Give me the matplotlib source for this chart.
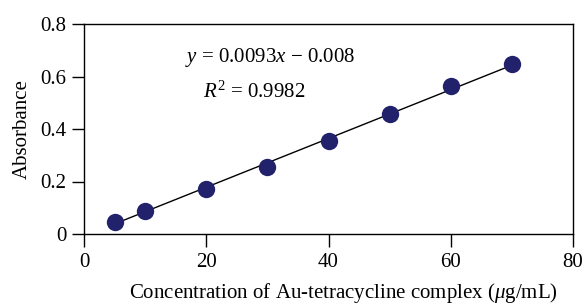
import numpy as np
import matplotlib
matplotlib.use("Agg")
import matplotlib.pyplot as plt

plt.rcParams['font.family'] = ['Liberation Serif', 'DejaVu Serif']
plt.rcParams['mathtext.fontset'] = 'custom'
plt.rcParams['mathtext.rm'] = 'Liberation Serif'
plt.rcParams['mathtext.it'] = 'Liberation Serif:italic'

# data
concentration = [5, 10, 20, 30, 40, 50, 60, 70]
absorbance = [0.047, 0.089, 0.171, 0.256, 0.353, 0.456, 0.563, 0.648]
slope = 0.0093
intercept = -0.008
x_ticks = [0, 20, 40, 60, 80]
y_ticks = [0, 0.2, 0.4, 0.6, 0.8]
y_tick_labels = ["0", "0.2", "0.4", "0.6", "0.8"]

fig = plt.figure(figsize=(5.84, 3.04), dpi=100)
ax = fig.add_axes([84 / 584, 1 - 234 / 304, (573 - 84) / 584, (234 - 24) / 304])

fit_x = np.array([concentration[0], concentration[-1]])
ax.plot(fit_x, slope * fit_x + intercept, color="black", lw=1.0, zorder=2)
ax.plot(concentration, absorbance, "o", color="#22226c", markersize=12.5,
        markeredgewidth=0, zorder=3)

ax.set_xlim(0, 80)
ax.set_ylim(0, 0.8)
ax.set_xticks(x_ticks)
ax.set_yticks(y_ticks)
ax.set_yticklabels(y_tick_labels)
ax.tick_params(direction="out", length=9, width=1, labelsize=15, colors="black")
ax.tick_params(axis="x", pad=5)
for s in ax.spines.values():
    s.set_linewidth(1)

ax.text(30.4, 0.674, r"$y$ = 0.0093$x$ $-$ 0.008", fontsize=15, ha="center", va="center")
ax.text(27.8, 0.541, r"$R^2$ = 0.9982", fontsize=15, ha="center", va="center")

ax.set_xlabel(r"Concentration of Au-tetracycline complex ($\mu$g/mL)", fontsize=15)
ax.xaxis.set_label_coords((343 - 84) / 489, -0.225)
ax.set_ylabel("Absorbance", fontsize=15, labelpad=6)

fig.savefig("out.png", dpi=100)
